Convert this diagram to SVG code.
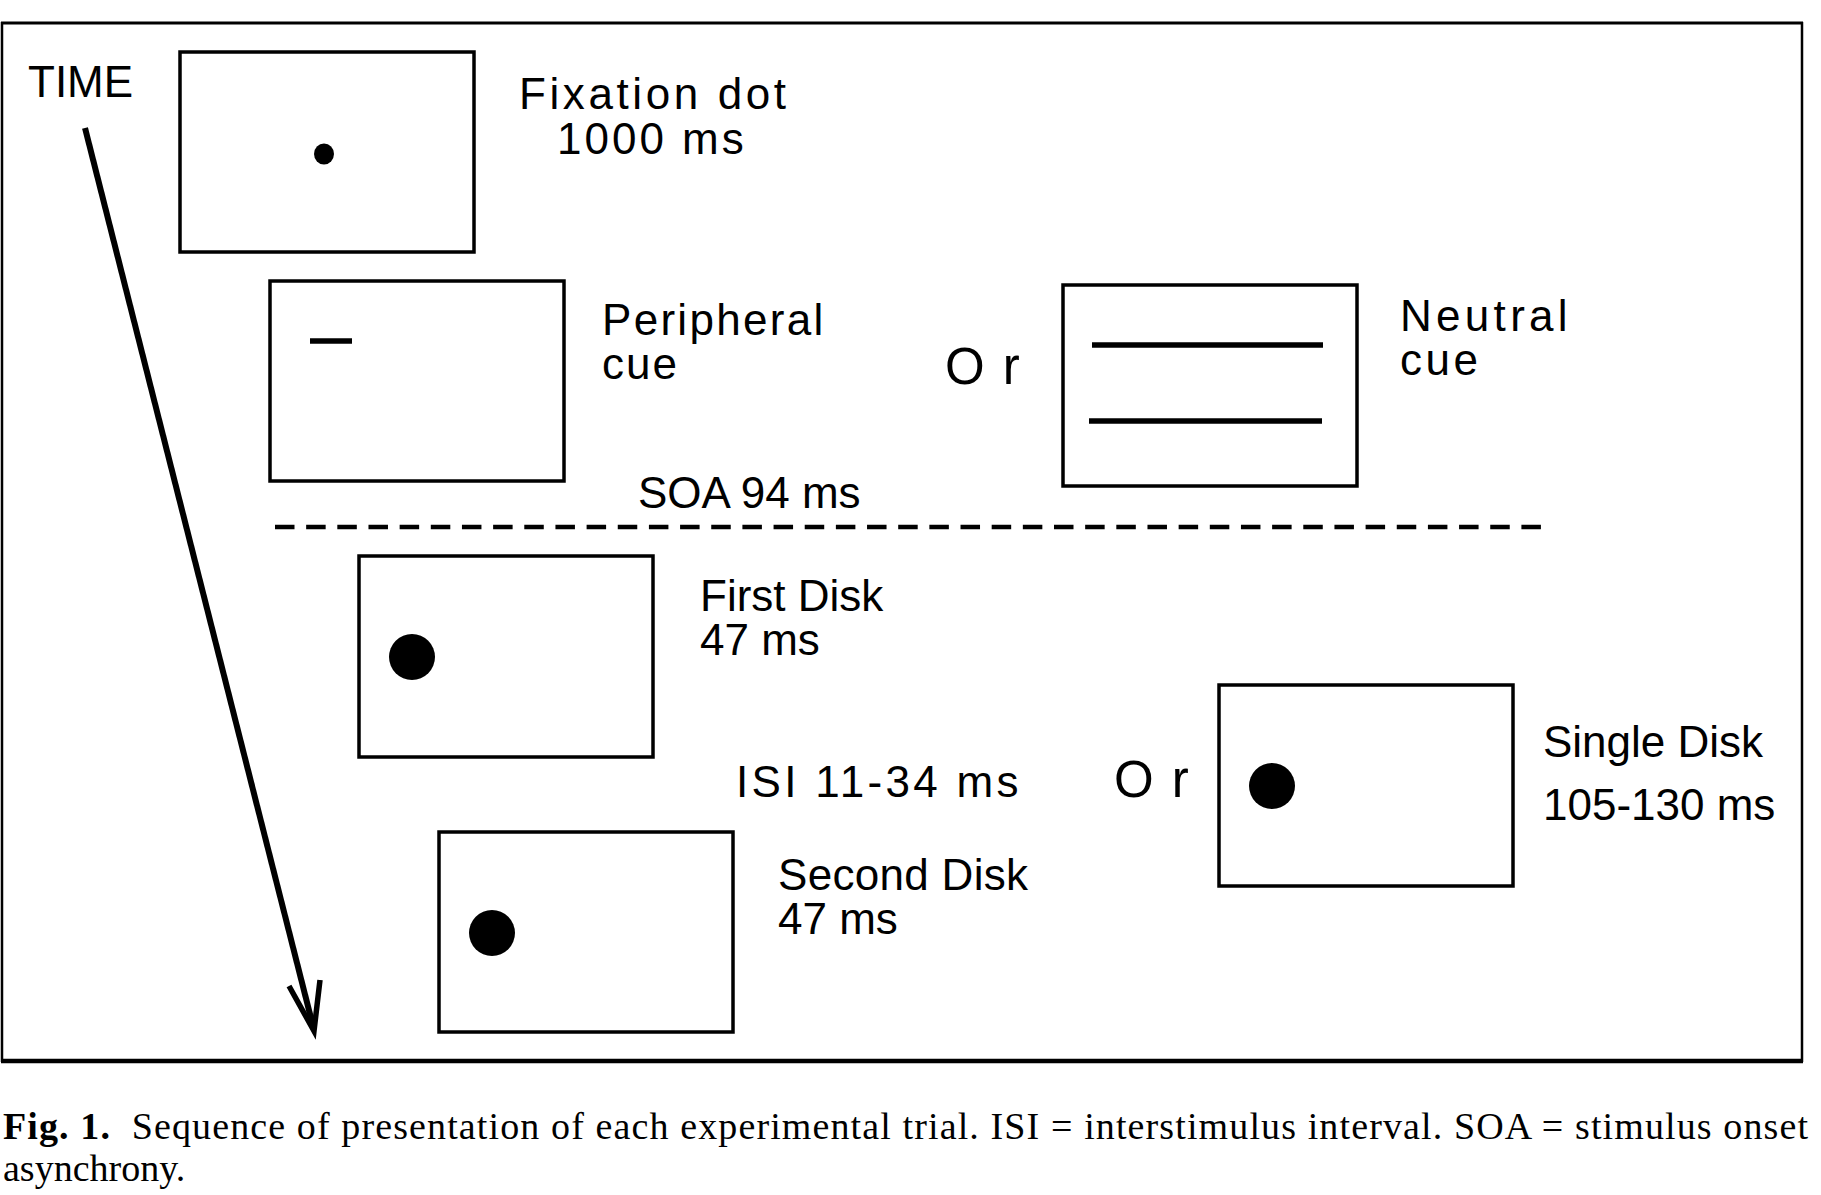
<svg xmlns="http://www.w3.org/2000/svg" width="1821" height="1195" viewBox="0 0 1821 1195">
  <style>
    .lbl { font-family: "Liberation Sans", Arial, Helvetica, sans-serif; font-size: 44px; fill: #000; }
    .or { font-size: 51px; }
    .box { fill: #fff; stroke: #000; stroke-width: 3.5; }
    .dot { fill: #000; }
    .bar { stroke: #000; stroke-width: 5.5; fill: none; }
    .cap { font-family: "Liberation Serif", "Times New Roman", serif; font-size: 38px; fill: #000; }
  </style>
  <rect width="1821" height="1195" fill="#fff"/>
  <g id="frame" stroke="#000" fill="none">
    <line x1="1" y1="23" x2="1803" y2="23" stroke-width="3"/>
    <line x1="2" y1="22" x2="2" y2="1062" stroke-width="2.5"/>
    <line x1="1802" y1="22" x2="1802" y2="1062" stroke-width="2.5"/>
    <line x1="1" y1="1061" x2="1803" y2="1061" stroke-width="4.5"/>
  </g>
  <text class="lbl" x="28" y="97">TIME</text>

  <g id="connectors" stroke="#000" fill="none">
    <line x1="85" y1="128" x2="313" y2="1026" stroke-width="6"/>
    <polyline points="289,986 314,1031 320,980" stroke-width="5.5" stroke-linejoin="miter" stroke-miterlimit="10"/>
  </g>

  <line id="soa-divider" x1="275" y1="527" x2="1541" y2="527" stroke="#000" stroke-width="4.5" stroke-dasharray="19.5 11.66"/>

  <g id="fixation">
    <rect class="box" x="180" y="52" width="294" height="200"/>
    <ellipse class="dot" cx="324" cy="154" rx="10" ry="10.5"/>
    <text class="lbl" x="519" y="109" letter-spacing="3.6">Fixation dot</text>
    <text class="lbl" x="557" y="154" letter-spacing="3">1000 ms</text>
  </g>

  <g id="peripheral-cue">
    <rect class="box" x="270" y="281" width="294" height="200"/>
    <line class="bar" x1="310" y1="341" x2="352" y2="341"/>
    <text class="lbl" x="602" y="335" letter-spacing="2.3">Peripheral</text>
    <text class="lbl" x="602" y="379" letter-spacing="2">cue</text>
  </g>

  <text id="or-cue" class="lbl or" x="945" y="384" letter-spacing="2">O r</text>

  <g id="neutral-cue">
    <rect class="box" x="1063" y="285" width="294" height="201"/>
    <line class="bar" x1="1092" y1="345" x2="1323" y2="345"/>
    <line class="bar" x1="1089" y1="421" x2="1322" y2="421"/>
    <text class="lbl" x="1400" y="331" letter-spacing="4.3">Neutral</text>
    <text class="lbl" x="1400" y="375" letter-spacing="3.5">cue</text>
  </g>

  <text id="soa" class="lbl" x="638" y="508">SOA 94 ms</text>

  <g id="first-disk">
    <rect class="box" x="359" y="556" width="294" height="201"/>
    <circle class="dot" cx="412" cy="657" r="23"/>
    <text class="lbl" x="700" y="611">First Disk</text>
    <text class="lbl" x="700" y="655">47 ms</text>
  </g>

  <text id="isi" class="lbl" x="736" y="797" letter-spacing="3.3">ISI 11-34 ms</text>
  <text id="or-disk" class="lbl or" x="1114" y="797" letter-spacing="2">O r</text>

  <g id="second-disk">
    <rect class="box" x="439" y="832" width="294" height="200"/>
    <circle class="dot" cx="492" cy="933" r="23"/>
    <text class="lbl" x="778" y="890" letter-spacing="0.3">Second Disk</text>
    <text class="lbl" x="778" y="934">47 ms</text>
  </g>

  <g id="single-disk">
    <rect class="box" x="1219" y="685" width="294" height="201"/>
    <circle class="dot" cx="1272" cy="786" r="23"/>
    <text class="lbl" x="1543" y="757">Single Disk</text>
    <text class="lbl" x="1543" y="820">105-130 ms</text>
  </g>

  <g id="caption">
    <text class="cap" x="3" y="1139" textLength="1805" lengthAdjust="spacing"><tspan font-weight="bold">Fig. 1.</tspan><tspan dx="10"> Sequence of presentation of each experimental trial. ISI = interstimulus interval. SOA = stimulus onset</tspan></text>
    <text class="cap" x="3" y="1181">asynchrony.</text>
  </g>
</svg>
